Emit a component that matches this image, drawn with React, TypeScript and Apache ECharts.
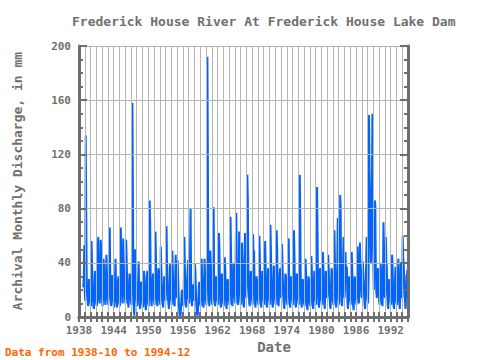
import React, { useEffect, useRef } from "react";
import * as echarts from "echarts";

// Monthly discharge (mm); first row of the 1930s starts at 1938-10
const start1938 = [22, 30, 53];
const discharge1939 = [18, 12, 134, 79, 30, 20, 12, 8, 16, 28, 24, 14];
const discharge1940s = [
  [10, 8, 56, 42, 26, 14, 8, 6, 18, 34, 28, 16],
  [10, 8, 12, 50, 59, 30, 14, 10, 20, 57, 52, 22],
  [12, 8, 14, 43, 38, 24, 12, 9, 18, 46, 34, 18],
  [12, 9, 18, 40, 66, 28, 14, 8, 16, 31, 28, 15],
  [10, 7, 12, 30, 43, 22, 12, 7, 14, 26, 30, 16],
  [10, 8, 24, 66, 40, 22, 12, 10, 58, 40, 30, 18],
  [12, 10, 57, 44, 28, 16, 10, 7, 20, 32, 30, 16],
  [12, 9, 40, 158, 97, 28, 6, 1, 22, 50, 42, 18],
  [12, 8, 14, 28, 41, 20, 10, 6, 14, 26, 24, 14],
  [10, 7, 12, 34, 30, 16, 8, 5, 14, 30, 34, 18],
];
const discharge1950s = [
  [10, 8, 20, 86, 70, 26, 12, 8, 16, 28, 32, 18],
  [12, 9, 22, 63, 44, 20, 10, 8, 18, 36, 30, 16],
  [12, 9, 52, 38, 26, 16, 10, 7, 16, 30, 28, 15],
  [12, 30, 67, 40, 24, 14, 9, 6, 18, 39, 30, 16],
  [12, 9, 49, 36, 22, 14, 9, 8, 30, 46, 32, 16],
  [14, 42, 30, 18, 8, 2, 0, 1, 6, 14, 20, 12],
  [10, 8, 28, 59, 40, 20, 10, 7, 16, 28, 36, 42],
  [14, 10, 18, 50, 80, 30, 12, 8, 16, 24, 22, 14],
  [12, 39, 34, 20, 8, 3, 1, 2, 10, 22, 26, 14],
  [10, 8, 30, 43, 30, 16, 9, 7, 18, 43, 32, 16],
];
const discharge1960s = [
  [12, 9, 30, 192, 112, 30, 12, 8, 20, 49, 40, 18],
  [12, 9, 16, 55, 81, 26, 12, 8, 18, 30, 28, 16],
  [12, 9, 30, 62, 49, 22, 10, 7, 18, 32, 28, 15],
  [10, 8, 20, 44, 37, 18, 9, 6, 16, 28, 26, 14],
  [12, 9, 30, 74, 50, 22, 10, 8, 20, 40, 36, 18],
  [14, 10, 57, 77, 40, 20, 10, 9, 30, 63, 55, 22],
  [12, 9, 24, 55, 42, 18, 9, 7, 24, 62, 40, 20],
  [14, 30, 105, 87, 40, 20, 10, 8, 20, 34, 30, 18],
  [12, 9, 61, 40, 49, 20, 10, 7, 18, 30, 28, 15],
  [12, 9, 22, 60, 44, 20, 10, 7, 18, 34, 30, 16],
];
const discharge1970s = [
  [12, 9, 30, 56, 38, 18, 9, 7, 20, 36, 32, 16],
  [12, 9, 68, 50, 30, 16, 9, 7, 20, 38, 34, 18],
  [12, 9, 20, 64, 50, 22, 10, 8, 18, 30, 36, 22],
  [14, 20, 54, 40, 26, 14, 8, 6, 18, 32, 30, 16],
  [12, 9, 22, 50, 58, 22, 10, 7, 18, 30, 28, 15],
  [12, 9, 28, 64, 44, 20, 9, 7, 18, 32, 30, 16],
  [12, 9, 40, 105, 74, 24, 10, 7, 16, 28, 26, 14],
  [10, 8, 16, 43, 34, 16, 8, 5, 14, 30, 28, 14],
  [10, 8, 22, 45, 36, 16, 8, 6, 16, 34, 30, 16],
  [12, 9, 30, 96, 60, 22, 10, 7, 18, 36, 34, 18],
];
const discharge1980s = [
  [12, 9, 24, 48, 38, 18, 9, 6, 18, 34, 32, 16],
  [14, 20, 46, 38, 26, 14, 8, 6, 18, 36, 34, 18],
  [12, 9, 30, 64, 44, 18, 9, 7, 20, 40, 73, 30],
  [12, 9, 30, 90, 80, 28, 12, 8, 22, 40, 59, 26],
  [14, 20, 48, 36, 30, 37, 12, 6, 16, 30, 28, 14],
  [12, 9, 26, 48, 36, 16, 8, 5, 16, 30, 28, 14],
  [12, 9, 30, 52, 38, 18, 10, 30, 55, 40, 30, 16],
  [14, 18, 41, 34, 24, 14, 8, 6, 20, 40, 59, 30],
  [14, 10, 30, 149, 110, 90, 60, 40, 70, 95, 150, 60],
  [40, 20, 60, 86, 83, 40, 20, 14, 22, 34, 36, 18],
];
const discharge1990s = [
  [12, 9, 20, 40, 34, 18, 10, 8, 30, 70, 46, 20],
  [14, 20, 59, 40, 37, 16, 8, 6, 16, 28, 26, 14],
  [12, 9, 20, 46, 36, 16, 8, 6, 14, 28, 37, 16],
  [12, 9, 14, 30, 43, 24, 10, 6, 16, 40, 30, 16],
  [14, 60, 44, 40, 30, 16, 9, 6, 16, 30, 32, 35],
];

const xTickYears = [1938, 1944, 1950, 1956, 1962, 1968, 1974, 1980, 1986, 1992];
const yTicks = [0, 40, 80, 120, 160, 200];

function buildSeries(): [number, number][] {
  const pts: [number, number][] = [];
  start1938.forEach((v, i) => pts.push([1938 + (9 + i) / 12, v]));
  discharge1939.forEach((v, i) => pts.push([1939 + i / 12, v]));
  const decades: [number, number[][]][] = [
    [1940, discharge1940s],
    [1950, discharge1950s],
    [1960, discharge1960s],
    [1970, discharge1970s],
    [1980, discharge1980s],
    [1990, discharge1990s],
  ];
  decades.forEach(([y0, rows]) => {
    rows.forEach((row, r) => {
      row.forEach((v, m) => pts.push([y0 + r + m / 12, v]));
    });
  });
  return pts;
}

export default function App() {
  const ref = useRef<HTMLDivElement>(null);
  useEffect(() => {
    if (!ref.current) return;
    const chart = echarts.init(ref.current, undefined, { renderer: "svg" });
    const frame = "#6e6e6e";
    const gridC = "#b4b4b4";
    const font = "DejaVu Sans Mono";
    const labelStyle = { color: "#707070", fontFamily: font, fontSize: 11, fontWeight: "bold" as const };
    const xBase = {
      type: "value" as const,
      min: 1938,
      max: 1995,
      interval: 6,
      z: 3,
      axisLine: { show: true, lineStyle: { color: frame, width: 3 } },
      axisTick: { show: true, inside: true, length: 5, lineStyle: { color: frame, width: 2 } },
      minorTick: { show: true, splitNumber: 6, length: 5, lineStyle: { color: frame, width: 2 } },
      splitLine: { show: true, lineStyle: { color: gridC, width: 1 } },
      minorSplitLine: { show: true, lineStyle: { color: gridC, width: 1 } },
    };
    const yBase = {
      type: "value" as const,
      min: 0,
      max: 200,
      interval: 40,
      z: 3,
      axisLine: { show: true, lineStyle: { color: frame, width: 3 } },
      axisTick: { show: true, inside: true, length: 8, lineStyle: { color: frame, width: 2 } },
      minorTick: { show: true, splitNumber: 4, length: 4, lineStyle: { color: frame, width: 2 } },
      splitLine: { show: true, lineStyle: { color: gridC, width: 1 } },
    };
    chart.setOption({
      animation: false,
      backgroundColor: "#ffffff",
      title: {
        text: "Frederick House River At Frederick House Lake Dam",
        left: 67,
        top: 10,
        textStyle: { color: "#707070", fontFamily: font, fontSize: 13, fontWeight: "bold" },
      },
      grid: { left: 79, right: 72, top: 46, bottom: 43, containLabel: false },
      xAxis: [
        {
          ...xBase,
          position: "bottom",
          axisLabel: {
            ...labelStyle,
            margin: 8,
            formatter: (v: number) => (xTickYears.includes(v) ? String(v) : ""),
          },
        },
        { ...xBase, position: "top", axisLabel: { show: false }, splitLine: { show: false }, minorSplitLine: { show: false } },
      ],
      yAxis: [
        {
          ...yBase,
          position: "left",
          axisLabel: {
            ...labelStyle,
            margin: 8,
            formatter: (v: number) => (yTicks.includes(v) ? String(v) : ""),
          },
        },
        { ...yBase, position: "right", axisLabel: { show: false }, splitLine: { show: false } },
      ],
      series: [
        {
          type: "line",
          data: buildSeries(),
          showSymbol: false,
          symbol: "none",
          lineStyle: { color: "#0064ff", width: 2 },
          z: 2,
        },
      ],
      graphic: [
        {
          type: "text",
          x: 17,
          y: 181,
          rotation: Math.PI / 2,
          style: {
            text: "Archival Monthly Discharge, in mm",
            fill: "#707070",
            font: `bold 13px "${font}"`,
            textAlign: "center",
            textVerticalAlign: "middle",
          },
        },
        {
          type: "text",
          x: 274,
          y: 347,
          style: {
            text: "Date",
            fill: "#707070",
            font: `bold 14px "${font}"`,
            textAlign: "center",
            textVerticalAlign: "middle",
          },
        },
        {
          type: "text",
          x: 5,
          y: 352,
          style: {
            text: "Data from 1938-10 to 1994-12",
            fill: "#ff6600",
            font: `bold 11px "${font}"`,
            textAlign: "left",
            textVerticalAlign: "middle",
          },
        },
      ],
    });
    return () => chart.dispose();
  }, []);
  return (
    <div
      ref={ref}
      style={{ width: 480, height: 360, position: "absolute", left: 0, top: 0 }}
    />
  );
}
